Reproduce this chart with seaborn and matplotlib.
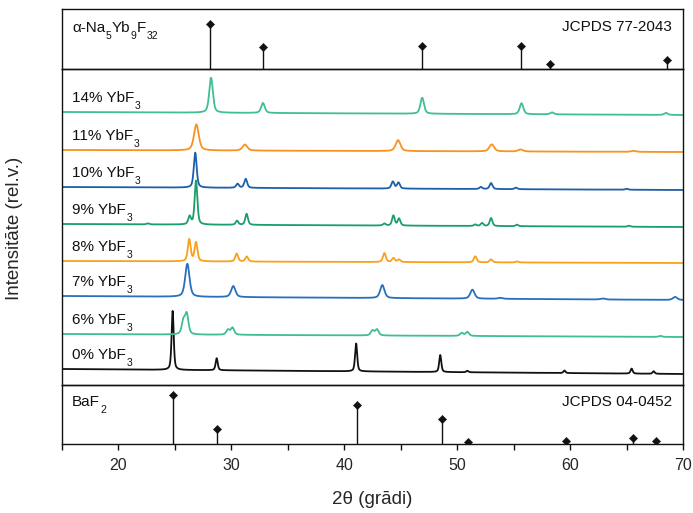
import numpy as np
import pandas as pd
import matplotlib
matplotlib.use("Agg")
import matplotlib.pyplot as plt
import seaborn as sns

# ---------------- data ----------------
samples = ["0% YbF3", "6% YbF3", "7% YbF3", "8% YbF3",
           "9% YbF3", "10% YbF3", "11% YbF3", "14% YbF3"]
sample_segments = [[(s[:-1], False), ("3", True)] for s in samples]
colors = ["#111111", "#3fbf8f", "#2870bd", "#f9a11b",
          "#1a9e6a", "#1d5fa8", "#f7931e", "#3fbf94"]
offsets = [16, 51, 89, 124, 161, 198, 235, 273]
baseline_drop = [5, 3, 4, 2, 3, 3, 2, 3]
fwhm = [0.22, 0.35, 0.45, 0.3, 0.28, 0.3, 0.5, 0.38]

peak_pos = [
    [24.8, 28.7, 41.05, 48.5, 50.9, 59.5, 65.45, 67.4],
    [25.75, 26.05, 29.7, 30.1, 42.5, 42.9, 50.4, 50.9, 68.0],
    [26.1, 30.17, 43.37, 51.35, 53.8, 62.9, 69.3],
    [26.27, 26.87, 30.47, 31.36, 43.55, 44.35, 44.85, 51.6, 53.0, 55.3],
    [22.6, 26.3, 26.87, 30.5, 31.35, 43.55, 44.35, 44.85, 51.6, 52.2, 53.0, 55.3, 65.2],
    [26.8, 30.55, 31.27, 44.3, 44.8, 52.1, 53.0, 55.2, 65.0],
    [26.9, 31.2, 44.76, 53.06, 55.6, 65.6],
    [28.2, 32.8, 46.9, 55.7, 58.4, 68.5],
]
peak_hgt = [
    [59, 12, 28, 17, 1.5, 2.5, 5, 2.5],
    [13, 20, 5, 7, 5, 6, 3, 4, 1],
    [33, 11, 13, 9, 1, 1, 3],
    [22, 19, 8, 5, 9, 4, 2.5, 6, 3, 1],
    [1, 8, 44, 4, 11, 2, 10, 7, 1.5, 3, 8, 1.5, 1],
    [35, 4, 9, 7, 6, 2, 6, 1.5, 1],
    [26, 6, 11, 7, 2, 1],
    [35, 10, 16, 11, 2, 2],
]

# reference sticks
na_pos = [28.1, 32.8, 46.9, 55.65, 58.2, 68.55]
na_int = [45, 22, 23, 23, 5, 9]
baf_pos = [24.85, 28.77, 41.17, 48.66, 50.97, 59.6, 65.6, 67.57]
baf_int = [49, 14.7, 38.7, 25, 2, 3, 6.3, 3]

na_segments = [("α-Na", False), ("5", True), ("Yb", False), ("9", True), ("F", False), ("32", True)]
baf_segments = [("BaF", False), ("2", True)]

x_major = [20, 30, 40, 50, 60, 70]
x_minor = [15, 25, 35, 45, 55, 65]

# ---------------- style ----------------
sns.set_style("white")
plt.rcParams["font.family"] = ["Liberation Sans", "DejaVu Sans"]

W, H = 693, 513
fig = plt.figure(figsize=(W / 100, H / 100), dpi=100)
L, R = 62 / W, 683 / W
ax_top = fig.add_axes([L, 1 - 69 / H, R - L, 60 / H])
ax_mid = fig.add_axes([L, 1 - 385 / H, R - L, 316 / H])
ax_bot = fig.add_axes([L, 1 - 444 / H, R - L, 59 / H])

for ax in (ax_top, ax_mid, ax_bot):
    ax.set_xlim(15, 70)
    ax.set_yticks([])
    for s in ax.spines.values():
        s.set_color("#111111")
        s.set_linewidth(1.0)
        s.set_visible(True)
    ax.patch.set_alpha(0)

MAIN_FS, SUB_FS = 11, 7.5


def label(ax, x, y, segments):
    """Draw text with lowered subscripts, chained segment by segment."""
    first = ax.text(x, y, segments[0][0], fontsize=MAIN_FS, color="#111111",
                    ha="left", va="baseline")
    last_main = first
    prev = first
    for txt, sub in segments[1:]:
        if sub:
            a = ax.annotate(txt, xy=(1, 0), xycoords=prev, xytext=(0.3, 3.2),
                            textcoords="offset points", fontsize=SUB_FS,
                            color="#111111", ha="left", va="top")
        else:
            a = ax.annotate(txt, xy=(1, 0), xycoords=(prev, last_main),
                            xytext=(0.3, 0), textcoords="offset points",
                            fontsize=MAIN_FS, color="#111111",
                            ha="left", va="bottom")
            last_main = a
        prev = a


# ---------------- XRD curves ----------------
grid = np.arange(15.0, 70.001, 0.02)
frames = []
for name, off, drop, w, pp, hh in zip(samples, offsets, baseline_drop, fwhm, peak_pos, peak_hgt):
    y = off - drop * (grid - 15) / 55.0
    g = w / 2.0
    for p, h in zip(pp, hh):
        lor = g ** 2 / ((grid - p) ** 2 + g ** 2)
        gau = np.exp(-np.log(2) * ((grid - p) / g) ** 2)
        y = y + h * (0.5 * lor + 0.5 * gau)
    frames.append(pd.DataFrame({"x": grid, "y": y, "sample": name}))
df = pd.concat(frames, ignore_index=True)

sns.lineplot(data=df, x="x", y="y", hue="sample", palette=dict(zip(samples, colors)),
             hue_order=samples, estimator=None, sort=False, linewidth=1.3,
             legend=False, ax=ax_mid)
ax_mid.set_ylim(0, 316)
ax_mid.set_xlabel("")
ax_mid.set_ylabel("")
ax_mid.set_xticks([])
for segs, off in zip(sample_segments, offsets):
    label(ax_mid, 15.9, off + 10, segs)


# ---------------- reference sticks ----------------
def sticks(ax, pos, inten, ymax):
    ax.vlines(pos, 0, inten, color="#111111", linewidth=1.0)
    sdf = pd.DataFrame({"x": pos, "y": inten})
    sns.scatterplot(data=sdf, x="x", y="y", marker="D", s=18, color="#111111",
                    edgecolor="#111111", linewidth=0.3, ax=ax, legend=False)
    ax.set_ylim(0, ymax)
    ax.set_xlabel("")
    ax.set_ylabel("")
    ax.set_yticks([])


sticks(ax_top, na_pos, na_int, 60)
ax_top.set_xticks([])
label(ax_top, 15.9, 60 - 23, na_segments)
ax_top.text(69.0, 60 - 22, "JCPDS 77-2043", fontsize=MAIN_FS, ha="right", va="baseline",
            color="#111111")

sticks(ax_bot, baf_pos, baf_int, 59)
label(ax_bot, 15.9, 59 - 21, baf_segments)
ax_bot.text(69.0, 59 - 21, "JCPDS 04-0452", fontsize=MAIN_FS, ha="right", va="baseline",
            color="#111111")
ax_bot.set_xticks(x_major)
ax_bot.set_xticks(x_minor, minor=True)
ax_bot.set_xticklabels([str(v) for v in x_major], fontsize=11.5)
ax_bot.tick_params(axis="x", which="both", direction="out", length=4, width=1.0,
                   bottom=True, top=False, color="#111111", pad=6)
ax_bot.set_xlabel("2θ (grādi)", fontsize=13.5, labelpad=13)

fig.text(15 / W, 1 - 228 / H, "Intensitāte (rel.v.)", rotation=90, fontsize=13.5,
         ha="center", va="center")

fig.savefig("out.png", dpi=100, facecolor="white")
